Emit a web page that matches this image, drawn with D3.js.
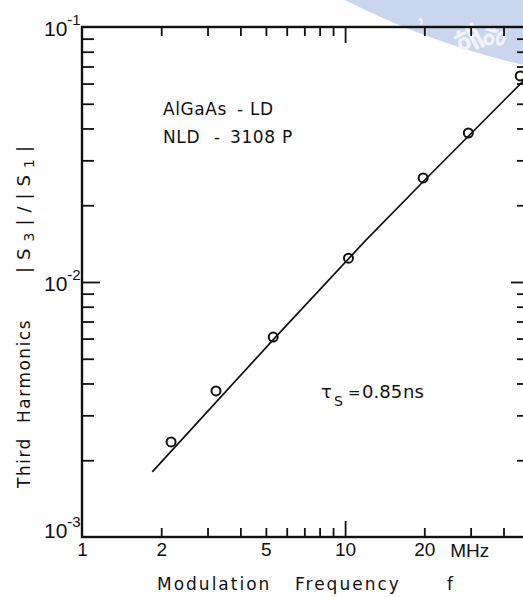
<!DOCTYPE html>
<html>
<head>
<meta charset="utf-8">
<script src="https://cdn.jsdelivr.net/npm/d3@7/dist/d3.min.js"></script>
<style>
  html, body { margin: 0; padding: 0; background: #fff; }
  svg { display: block; }
  text { fill: #111; }
</style>
</head>
<body>
<svg id="chart" width="523" height="597"></svg>
<script>
// ---- data ----
const pointFreq = [2.18, 3.23, 5.33, 10.3, 19.8, 29.4, 46.3];           // MHz
const pointValue = [2.36e-3, 3.74e-3, 6.08e-3, 1.24e-2, 2.56e-2, 3.84e-2, 6.43e-2];
const lineFreq = [1.85, 5.3, 12, 20, 48];
const lineValue = [1.8e-3, 5.9e-3, 1.46e-2, 2.5e-2, 6.2e-2];
const xTickLabels = [1, 2, 5, 10, 20];
const xMinorTicks = [2, 3, 4, 5, 6, 7, 8, 9, 20, 30, 40];
const xMajorTicks = [10];
const yDecades = [1e-3, 1e-2, 1e-1];
const yExponents = ["3", "2", "1"];
const yMinorTicks = [2,3,4,5,6,7,8,9].map(d => d * 1e-3).concat([2,3,4,5,6,7,8,9].map(d => d * 1e-2));
const yMajorTicks = [1e-2];

const svg = d3.select("#chart");

// ---- faint watermark (seal fragment, top right) ----
const wm = svg.append("g");
wm.append("circle").attr("cx", 700).attr("cy", -700).attr("r", 785).attr("fill", "#cad5ee");
wm.append("text").attr("transform", "translate(462,56) rotate(-28)")
  .attr("font-family", "Noto Sans CJK KR").attr("font-size", 30).attr("font-weight", "bold")
  .style("fill", "#f1f4fb").text("해");
wm.append("text").attr("transform", "translate(500,50) rotate(-75)")
  .attr("font-family", "Noto Sans CJK KR").attr("font-size", 24).attr("font-weight", "bold")
  .style("fill", "#f1f4fb").text("양");
wm.append("text").attr("transform", "translate(418,22) rotate(-20)")
  .attr("font-family", "Noto Sans CJK KR").attr("font-size", 18).attr("font-weight", "bold")
  .style("fill", "#f1f4fb").text(",");

// ---- scales ----
const x = d3.scaleLog().domain([1, 50]).range([82, 529]);
const y = d3.scaleLog().domain([1e-3, 1e-1]).range([537, 27]);
const [x0, x1] = x.range();
const [yb, yt] = y.range();

// ---- ticks (inward) ----
function tickGroup(axis, tx, ty) {
  const g = svg.append("g").attr("transform", `translate(${tx},${ty})`).call(axis);
  g.select(".domain").remove();
  g.selectAll(".tick line").attr("stroke", "#111").attr("stroke-width", 1.8);
  return g;
}
const noLab = () => "";
tickGroup(d3.axisBottom(x).tickValues(xMinorTicks).tickSize(-9).tickFormat(noLab), 0, yb);
tickGroup(d3.axisBottom(x).tickValues(xMajorTicks).tickSize(-16).tickFormat(noLab), 0, yb);
tickGroup(d3.axisTop(x).tickValues(xMinorTicks).tickSize(-9).tickFormat(noLab), 0, yt);
tickGroup(d3.axisTop(x).tickValues(xMajorTicks).tickSize(-16).tickFormat(noLab), 0, yt);
tickGroup(d3.axisLeft(y).tickValues(yMinorTicks).tickSize(-12).tickFormat(noLab), x0, 0);
tickGroup(d3.axisLeft(y).tickValues(yMajorTicks).tickSize(-18).tickFormat(noLab), x0, 0);
tickGroup(d3.axisRight(y).tickValues(yMinorTicks).tickSize(-12).tickFormat(noLab), x1, 0);
tickGroup(d3.axisRight(y).tickValues(yMajorTicks).tickSize(-18).tickFormat(noLab), x1, 0);

// ---- frame ----
svg.append("rect")
  .attr("x", x0).attr("y", yt).attr("width", x1 - x0).attr("height", yb - yt)
  .attr("fill", "none").attr("stroke", "#111").attr("stroke-width", 2.4);

// ---- x tick labels ----
const xl = svg.append("g").attr("transform", `translate(0,${yb})`)
  .call(d3.axisBottom(x).tickValues(xTickLabels).tickSize(0).tickPadding(6).tickFormat(d3.format("d")));
xl.select(".domain").remove();
xl.selectAll("text").attr("font-family", "Liberation Sans, Arial, sans-serif").attr("font-size", 19).style("fill", "#111");
svg.append("text").attr("x", x(20) + 26).attr("y", yb + 20)
  .attr("font-family", "Liberation Sans, Arial, sans-serif").attr("font-size", 19).text("MHz");

// ---- y decade labels ----
yDecades.forEach((v, i) => {
  const base = Math.min(y(v) + 9, yb + 0.5);
  const t = svg.append("text").attr("x", 44).attr("y", base)
    .attr("font-family", "Liberation Sans, Arial, sans-serif").attr("font-size", 21);
  t.append("tspan").text("10");
  t.append("tspan").attr("dy", -11).attr("font-size", 15).text("-" + yExponents[i]);
});

// ---- axis titles ----
const font = "DejaVu Sans, Verdana, sans-serif";
const xt = svg.append("text").attr("y", 590).attr("font-family", font).attr("font-size", 17).attr("letter-spacing", 2);
xt.append("tspan").attr("x", 157).text("Modulation");
xt.append("tspan").attr("x", 295).text("Frequency");
xt.append("tspan").attr("x", 447).text("f");

const yg = svg.append("g").attr("transform", "translate(30,0) rotate(-90)");
const ytt = yg.append("text").attr("y", 0).attr("font-family", font).attr("font-size", 17).attr("letter-spacing", 1.5);
ytt.append("tspan").attr("x", -488).text("Third");
ytt.append("tspan").attr("x", -423).text("Harmonics");
const abs = yg.append("text").attr("x", -273).attr("y", 0).attr("font-family", font).attr("font-size", 18).attr("letter-spacing", 7);
abs.append("tspan").text("|S");
abs.append("tspan").attr("font-size", 14).attr("dy", 4).text("3");
abs.append("tspan").attr("dy", -4).text("|/|S");
abs.append("tspan").attr("font-size", 14).attr("dy", 4).text("1");
abs.append("tspan").attr("dy", -4).text("|");

// ---- annotations ----
const a1 = svg.append("text").attr("y", 115).attr("font-family", font).attr("font-size", 17).attr("letter-spacing", 0.6);
a1.append("tspan").attr("x", 163).text("AlGaAs");
a1.append("tspan").attr("x", 237).text("-");
a1.append("tspan").attr("x", 250).text("LD");
const a2 = svg.append("text").attr("y", 143).attr("font-family", font).attr("font-size", 17).attr("letter-spacing", 0.6);
a2.append("tspan").attr("x", 163).text("NLD");
a2.append("tspan").attr("x", 214).text("-");
a2.append("tspan").attr("x", 230).text("3108");
a2.append("tspan").attr("x", 282).text("P");

const a3 = svg.append("text").attr("y", 398).attr("font-family", font).attr("font-size", 18);
a3.append("tspan").attr("x", 321).text("τ");
a3.append("tspan").attr("x", 334).attr("dy", 8).attr("font-size", 14).text("S");
a3.append("tspan").attr("x", 348).attr("dy", -8).attr("font-size", 15).text("=");
a3.append("tspan").attr("x", 362).text("0.85");
a3.append("tspan").attr("x", 403).text("ns");

// ---- fitted line ----
const lineData = lineFreq.map((f, i) => [f, lineValue[i]]);
svg.append("path")
  .datum(lineData)
  .attr("d", d3.line().x(d => x(d[0])).y(d => y(d[1])))
  .attr("fill", "none").attr("stroke", "#111").attr("stroke-width", 1.7);

// ---- data points ----
svg.append("g").selectAll("circle")
  .data(pointFreq.map((f, i) => [f, pointValue[i]]))
  .join("circle")
  .attr("cx", d => x(d[0])).attr("cy", d => y(d[1])).attr("r", 4.5)
  .attr("fill", "none").attr("stroke", "#111").attr("stroke-width", 2);
</script>
</body>
</html>
